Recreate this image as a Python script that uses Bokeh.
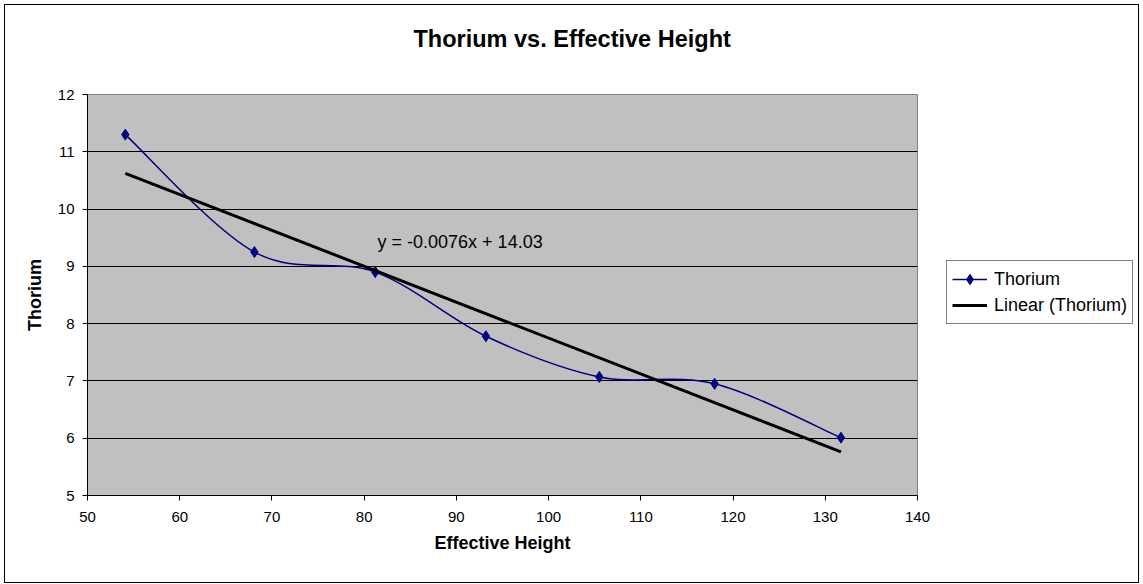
import numpy as np
from bokeh.plotting import figure
from bokeh.models import Range1d, Legend, LegendItem, Label, FixedTicker, ColumnDataSource, Title
from bokeh.embed import file_html
from bokeh.resources import INLINE

# ---- data ----
effective_height = [54.1, 68.1, 81.2, 93.2, 105.5, 118.0, 131.7]
thorium = [11.30, 9.25, 8.90, 7.78, 7.07, 6.95, 6.01]
x_ticks = [50, 60, 70, 80, 90, 100, 110, 120, 130, 140]
y_ticks = [5, 6, 7, 8, 9, 10, 11, 12]
equation_text = "y = -0.0076x + 14.03"
title_text = "Thorium vs. Effective Height"

FONT = "Liberation Sans"
NAVY = "#000080"

xs = np.array(effective_height)
ys = np.array(thorium)
n = len(xs)

# smoothed-line rendering (Excel style Bezier segments through the data points)
x0, y0, x1, y1, cx0, cy0, cx1, cy1 = [], [], [], [], [], [], [], []
for i in range(n - 1):
    a = max(i - 1, 0)
    d = min(i + 2, n - 1)
    x0.append(xs[i]); y0.append(ys[i])
    x1.append(xs[i + 1]); y1.append(ys[i + 1])
    cx0.append(xs[i] + (xs[i + 1] - xs[a]) / 6.0)
    cy0.append(ys[i] + (ys[i + 1] - ys[a]) / 6.0)
    cx1.append(xs[i + 1] - (xs[d] - xs[i]) / 6.0)
    cy1.append(ys[i + 1] - (ys[d] - ys[i]) / 6.0)
bez = ColumnDataSource(dict(x0=x0, y0=y0, x1=x1, y1=y1, cx0=cx0, cy0=cy0, cx1=cx1, cy1=cy1))

# linear trend line fitted to the data
slope, intercept = np.polyfit(xs, ys, 1)
tx = [xs.min(), xs.max()]
ty = [slope * v + intercept for v in tx]

p = figure(width=1133, height=577, frame_width=830, frame_height=401,
           output_backend="svg", toolbar_location=None,
           x_range=Range1d(50, 140), y_range=Range1d(5, 12), title_location=None,
           min_border_left=82, min_border_right=0, min_border_top=89, min_border_bottom=87)
p.margin = (5, 5, 2, 5)
p.styles = {"outline": "1px solid black", "width": "1133px", "max-width": "1133px",
            "height": "577px", "overflow": "hidden"}

p.background_fill_color = "#C0C0C0"
p.border_fill_color = "white"
p.outline_line_color = "#808080"
p.outline_line_width = 1

# spacer between frame and title, then the title itself
p.add_layout(Title(text=" ", text_font_size="1px", standoff=38), "above")
p.add_layout(Title(text=title_text, text_font=FONT, text_font_size="23.5px",
                   text_font_style="bold", text_color="black", align="left",
                   offset=326, standoff=4), "above")

for ax in (p.xaxis[0], p.yaxis[0]):
    ax.axis_line_color = "black"
    ax.axis_line_width = 1
    ax.major_tick_line_color = "black"
    ax.major_tick_out = 5
    ax.major_tick_in = 0
    ax.minor_tick_out = 0
    ax.minor_tick_in = 0
    ax.major_label_text_font = FONT
    ax.major_label_text_font_size = "15px"
    ax.major_label_text_color = "black"
    ax.axis_label_text_font = FONT
    ax.axis_label_text_font_size = "18px"
    ax.axis_label_text_font_style = "bold"
    ax.axis_label_text_color = "black"

p.xaxis.ticker = FixedTicker(ticks=x_ticks)
p.yaxis.ticker = FixedTicker(ticks=y_ticks)
p.xaxis.axis_label = "Effective Height"
p.yaxis.axis_label = "Thorium"
p.xaxis.major_label_standoff = 11
p.yaxis.major_label_standoff = 8
p.xaxis.axis_label_standoff = 8
p.yaxis.axis_label_standoff = 10

p.xgrid.visible = False
p.ygrid.ticker = FixedTicker(ticks=y_ticks)
p.ygrid.grid_line_color = "black"
p.ygrid.grid_line_width = 1

curve = p.bezier(x0="x0", y0="y0", x1="x1", y1="y1", cx0="cx0", cy0="cy0",
                 cx1="cx1", cy1="cy1", source=bez, line_color=NAVY, line_width=1.5)
legend_line = p.line(effective_height, thorium, line_color=NAVY, line_width=1.5)
legend_line.visible = False
pts = p.scatter(effective_height, thorium, marker="diamond", size=11,
                fill_color=NAVY, line_color=NAVY)
trend = p.line(tx, ty, line_color="black", line_width=3)

p.add_layout(Label(x=81.45, y=9.43, text=equation_text, text_font=FONT,
                   text_font_size="18px", text_color="black",
                   text_baseline="alphabetic"))

legend = Legend(items=[LegendItem(label="Thorium", renderers=[legend_line, pts]),
                       LegendItem(label="Linear (Thorium)", renderers=[trend])],
                location=(29, 171))
legend.border_line_color = "black"
legend.border_line_width = 1
legend.background_fill_color = "white"
legend.background_fill_alpha = 1
legend.inactive_fill_alpha = 0
legend.label_text_font = FONT
legend.label_text_font_size = "18px"
legend.label_text_color = "black"
legend.glyph_width = 35
legend.glyph_height = 26
legend.label_height = 26
legend.label_standoff = 7
legend.spacing = 0
legend.padding = 5
legend.margin = 0
p.add_layout(legend, "right")

open("out.html", "w").write(file_html(p, INLINE))
